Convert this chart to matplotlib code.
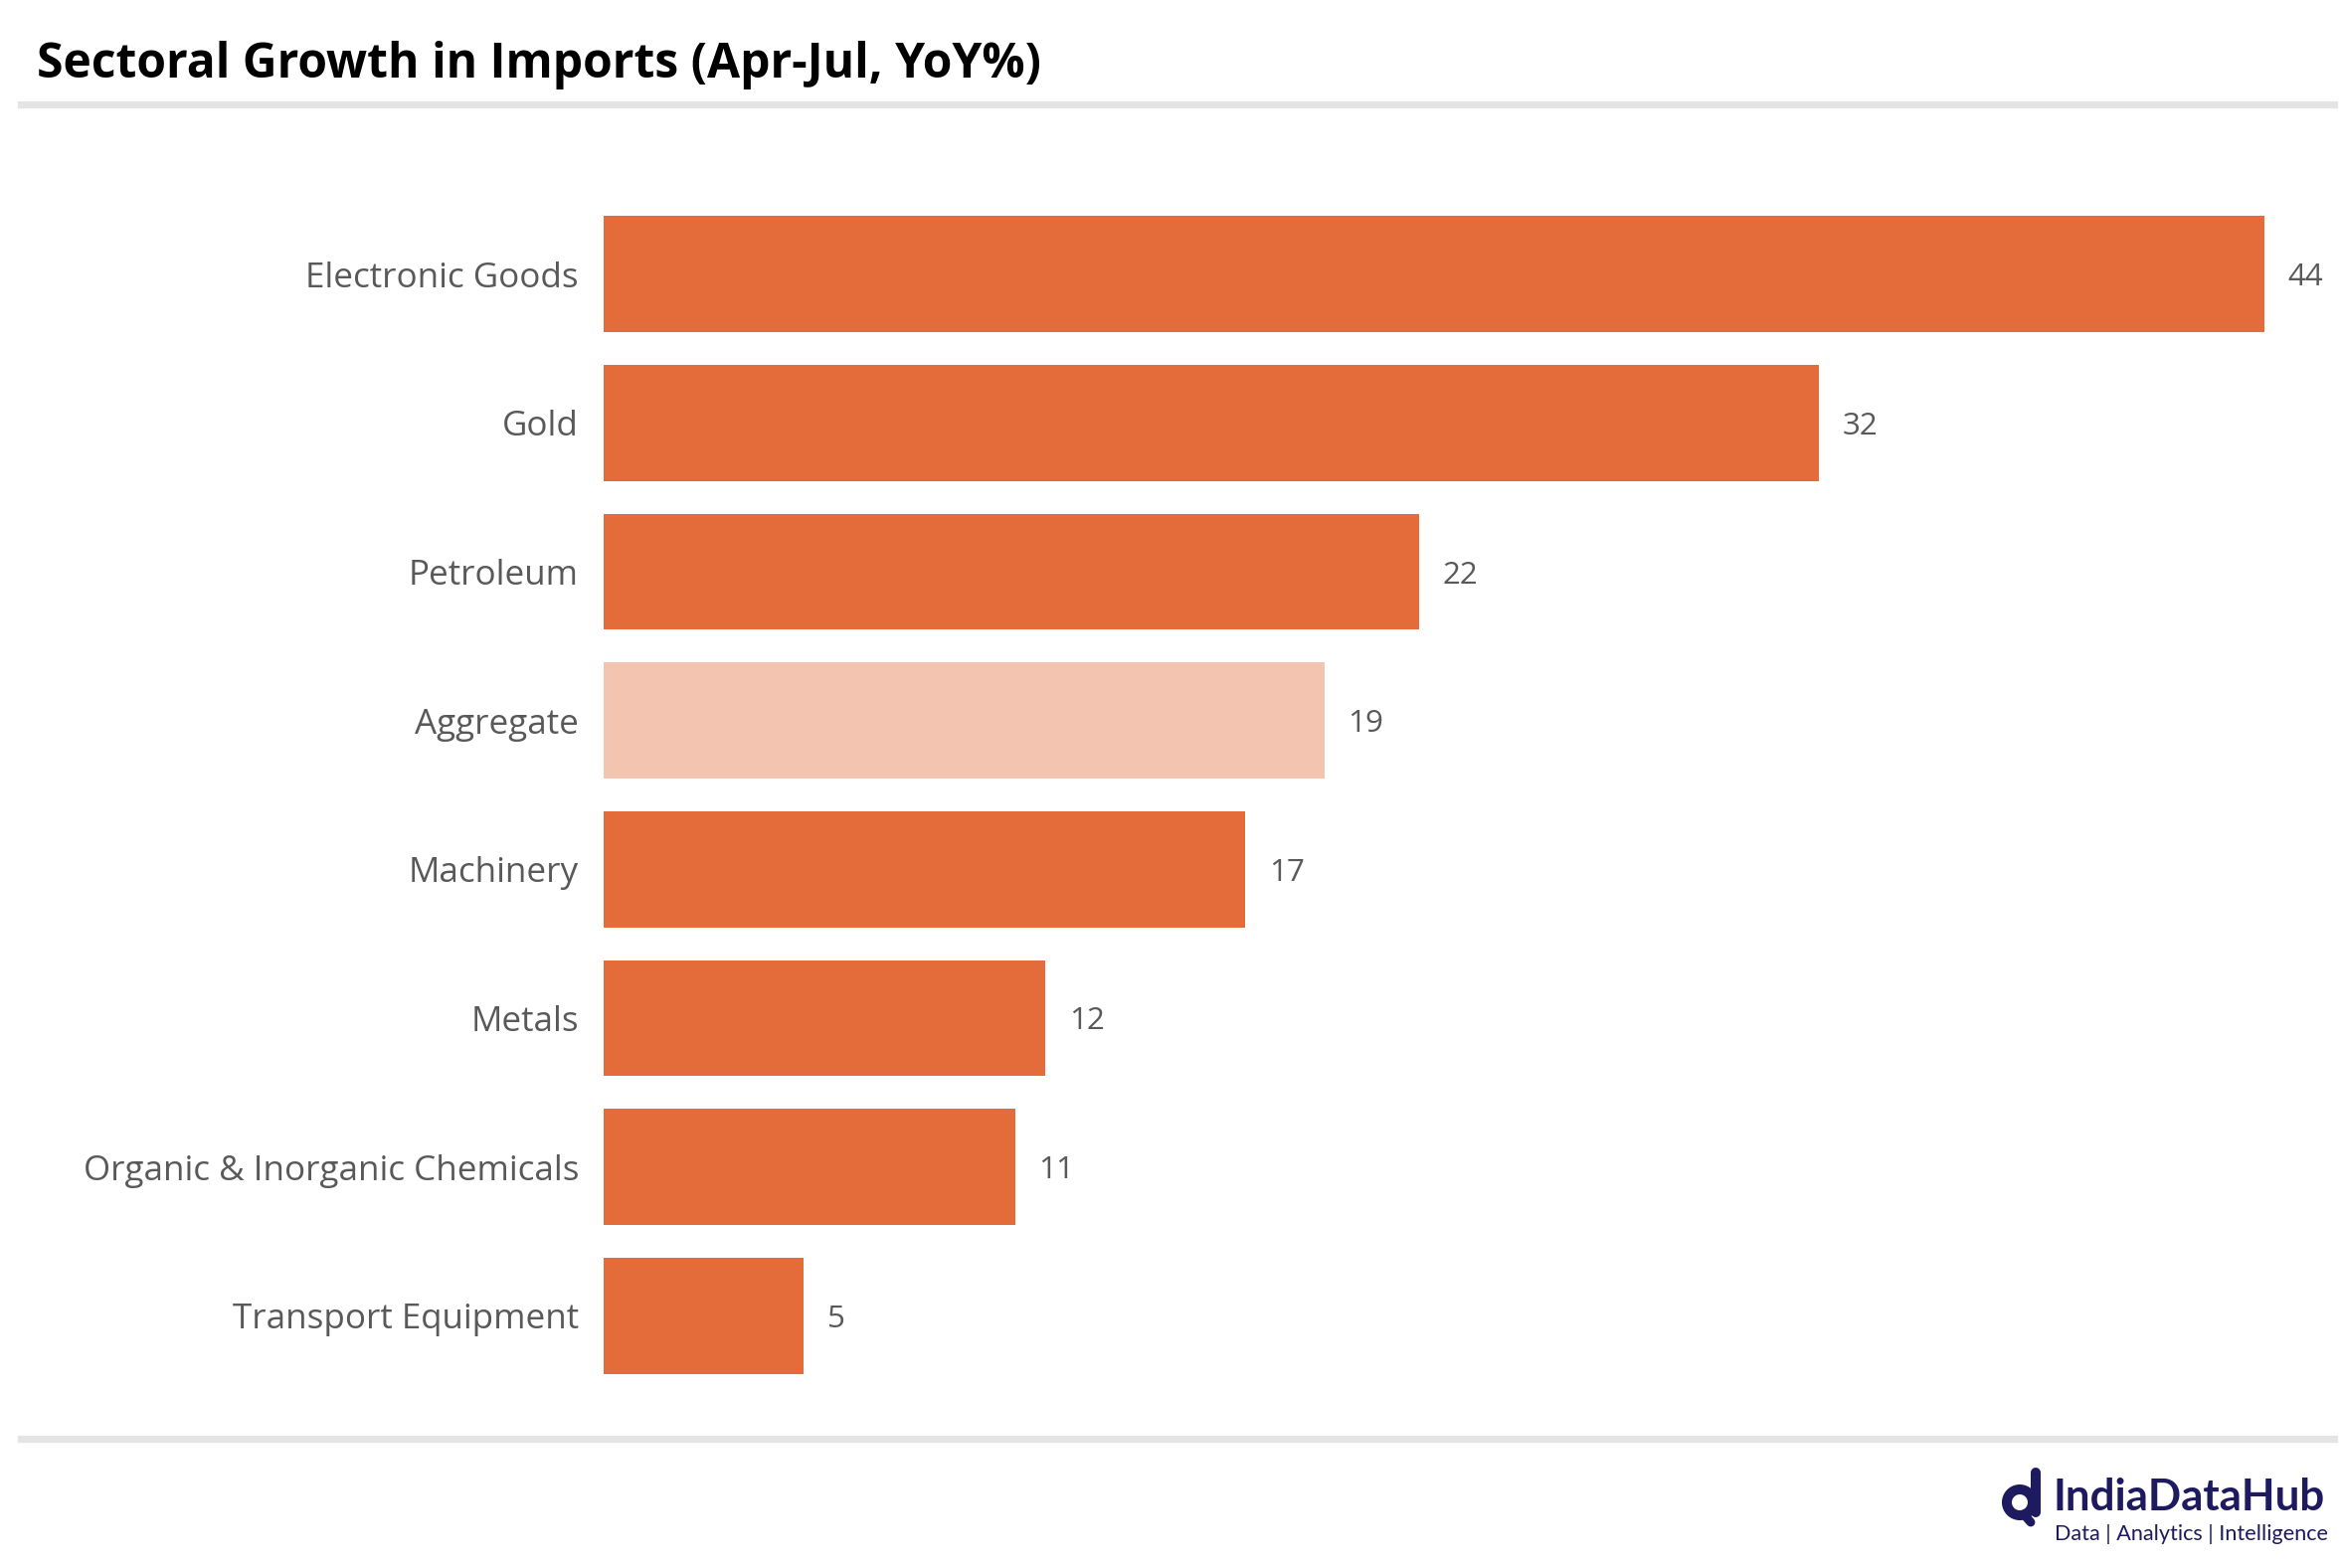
import matplotlib.pyplot as plt
from matplotlib import patches

# data (top to bottom)
categories = ["Electronic Goods", "Gold", "Petroleum", "Aggregate", "Machinery",
              "Metals", "Organic & Inorganic Chemicals", "Transport Equipment"]
growth = [44.0, 32.2, 21.6, 19.1, 17.0, 11.7, 10.9, 5.3]
highlight = "Aggregate"

ORANGE = "#E46C3A"
LIGHT = "#F3C4B0"
GREY_TXT = "#595959"
NAVY = "#1E1A5F"

plt.rcParams["font.family"] = ["Open Sans", "DejaVu Sans"]

W, H, DPI = 2352, 1577, 200
fig = plt.figure(figsize=(W / DPI, H / DPI), dpi=DPI)

# axes placed in pixel terms: bars start at x=607, 44 ends at x=2277
x0, x1 = 607, 2277
y_top, y_bot = 201, 1398
ax = fig.add_axes([x0 / W, 1 - y_bot / H, (x1 - x0) / W, (y_bot - y_top) / H])

pos = list(range(len(categories)))
colors = [LIGHT if c == highlight else ORANGE for c in categories]
ax.barh(pos, growth, height=0.78, color=colors)
ax.set_xlim(0, 44)
ax.set_ylim(len(categories) - 0.5, -0.5)

for p, v in zip(pos, growth):
    ax.annotate(f"{v:.0f}", (v, p), xytext=(8.5, 0), textcoords="offset points",
                va="center_baseline", ha="left", fontsize=11.3, color=GREY_TXT)

ax.set_yticks(pos)
ax.set_yticklabels(categories, fontsize=12.6, color=GREY_TXT)
ax.tick_params(axis="y", length=0, pad=9)
ax.set_xticks([])
for s in ax.spines.values():
    s.set_visible(False)

# title and separator lines
fig.text(37 / W, 1 - 66 / H, "Sectoral Growth in Imports (Apr-Jul, YoY%)",
         fontsize=17.3, fontweight="bold", color="black", va="center", ha="left")
fig.add_artist(plt.Line2D([21 / W, 2347 / W], [1 - 105 / H, 1 - 105 / H],
                          color="#E4E4E4", lw=2.6))
fig.add_artist(plt.Line2D([21 / W, 2347 / W], [1 - 1447 / H, 1 - 1447 / H],
                          color="#E4E4E4", lw=2.6))

# logo
fig.text(2064 / W, 1 - 1506 / H, "IndiaDataHub", fontsize=15.8, fontweight="bold",
         color=NAVY, va="center", ha="left", family=["Lato", "DejaVu Sans"])
fig.text(2066 / W, 1 - 1543 / H, "Data | Analytics | Intelligence", fontsize=7.8,
         color=NAVY, va="center", ha="left", family=["Lato", "DejaVu Sans"])
lax = fig.add_axes([2005 / W, 1 - 1540 / H, 55 / W, 65 / H])
lax.set_xlim(0, 55)
lax.set_ylim(65, 0)
lax.set_aspect("equal")
lax.axis("off")
lax.add_patch(patches.Circle((26, 36), 13, fill=False, lw=3.6, color=NAVY))
lax.plot([42, 42], [6, 46], color=NAVY, lw=3.6, solid_capstyle="round")
lax.plot([30, 37], [48, 56], color=NAVY, lw=3.2, solid_capstyle="round")

fig.savefig("out.png", dpi=DPI)
